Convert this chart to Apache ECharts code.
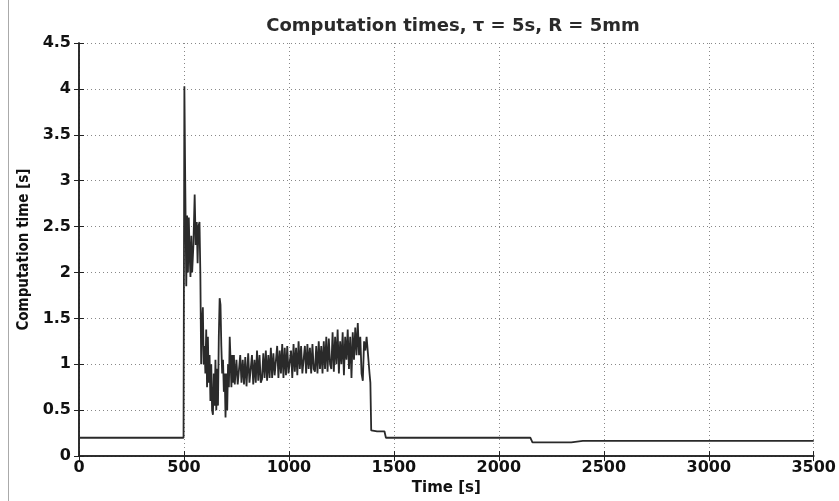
<!DOCTYPE html>
<html>
<head>
<meta charset="utf-8">
<script src="https://cdn.jsdelivr.net/npm/echarts@6/dist/echarts.min.js"></script>
<style>
  html, body { margin: 0; padding: 0; background: #fff; }
  #chart { width: 839px; height: 501px; }
</style>
</head>
<body>
<div id="chart"></div>
<script>
// values, [time s, computation time s]
const idleStart = [
    [0, 0.2], [60, 0.2], [62, 0.21], [66, 0.2], [160, 0.2], [163, 0.21], [168, 0.2],
    [230, 0.2], [233, 0.21], [236, 0.2], [395, 0.2], [398, 0.21], [402, 0.2], [498, 0.2]
];
const burst = [
    [500, 0.2], [502, 4.03], [506, 3.0], [511, 1.85], [515, 2.62], [519, 2.0], [523, 2.6],
    [527, 2.2], [531, 1.95], [535, 2.4], [539, 2.0], [545, 2.3], [551, 2.85], [556, 2.3],
    [561, 2.55], [565, 2.1], [569, 2.5], [574, 2.55], [578, 2.0], [582, 1.0], [586, 1.45],
    [590, 1.62], [594, 1.0], [598, 1.2], [602, 0.9], [606, 1.38], [610, 0.75], [614, 1.3],
    [618, 0.8], [622, 1.1], [626, 0.6], [630, 1.0], [634, 0.5], [638, 0.45], [642, 0.9],
    [646, 0.55], [650, 1.05], [654, 0.5], [658, 0.95], [662, 0.55], [666, 1.3], [670, 1.72],
    [674, 1.65], [678, 1.2], [682, 0.9], [686, 1.05], [690, 0.7], [694, 0.9], [698, 0.42],
    [702, 0.9], [706, 0.5], [710, 1.0], [714, 0.75], [718, 1.3], [722, 1.05], [726, 0.75],
    [730, 1.1], [734, 0.8], [738, 1.1], [742, 0.78]
];
const plateau = [
    [750, 1.05], [756, 0.78], [762, 0.8], [768, 1.1], [774, 0.8], [780, 1.05], [786, 0.78],
    [792, 1.08], [798, 0.76], [806, 1.12], [812, 0.8], [818, 0.82], [824, 1.1], [830, 0.78],
    [836, 1.05], [842, 0.8], [848, 1.15], [854, 0.82], [860, 1.1], [866, 0.8], [872, 0.84],
    [878, 1.12], [884, 0.85], [890, 1.15], [896, 0.82], [902, 1.1], [908, 0.85], [914, 1.18],
    [920, 0.85], [926, 1.12], [932, 0.88], [938, 0.86], [944, 1.2], [950, 0.85], [956, 1.15],
    [962, 0.9], [968, 1.22], [974, 0.85], [980, 1.18], [986, 0.88], [992, 1.2], [998, 0.9],
    [1004, 0.88], [1010, 1.15], [1016, 0.85], [1022, 1.22], [1028, 0.92], [1034, 1.18],
    [1040, 0.88], [1046, 1.25], [1052, 0.95], [1058, 1.2], [1064, 0.9], [1070, 0.92],
    [1076, 1.2], [1082, 0.9], [1088, 1.22], [1094, 0.95], [1100, 1.18], [1106, 0.9],
    [1112, 1.22], [1118, 0.95], [1124, 0.92], [1130, 1.2], [1136, 0.9], [1142, 1.25],
    [1148, 0.95], [1154, 1.2], [1160, 0.9], [1166, 1.25], [1172, 0.95], [1178, 1.3],
    [1184, 0.92], [1190, 1.28], [1196, 1.0], [1202, 0.95], [1208, 1.35], [1214, 0.92],
    [1220, 1.3], [1226, 1.0], [1232, 1.38], [1238, 0.9], [1244, 1.25], [1250, 1.0],
    [1256, 1.35], [1262, 0.88], [1268, 1.3], [1274, 1.05], [1280, 1.38], [1286, 0.95],
    [1292, 1.3], [1298, 0.85], [1304, 1.35], [1310, 1.05], [1316, 1.4], [1322, 1.1],
    [1328, 1.45], [1334, 1.1], [1340, 1.3], [1346, 0.9], [1352, 0.82], [1358, 1.25],
    [1364, 1.15], [1370, 1.3], [1378, 1.28], [1384, 0.9], [1388, 0.8], [1392, 0.28]
];
const idleEnd = [
    [1395, 0.27], [1420, 0.27], [1425, 0.26], [1430, 0.27], [1455, 0.27], [1462, 0.2],
    [1520, 0.2], [1524, 0.21], [1530, 0.2], [1700, 0.2], [1704, 0.21], [1710, 0.2],
    [1800, 0.2], [1803, 0.21], [1808, 0.2], [1880, 0.2], [1884, 0.21], [1900, 0.2],
    [2150, 0.2], [2160, 0.15], [2260, 0.15], [2265, 0.145], [2270, 0.15], [2345, 0.15],
    [2350, 0.165], [2400, 0.165], [2405, 0.15], [2410, 0.165], [2470, 0.165], [2475, 0.155],
    [2480, 0.165], [2540, 0.165], [2545, 0.15], [2550, 0.165], [2620, 0.165], [2625, 0.152],
    [2630, 0.165], [2700, 0.165], [2705, 0.15], [2710, 0.165], [2760, 0.165], [2765, 0.155],
    [2770, 0.165], [2850, 0.165], [2855, 0.15], [2860, 0.165], [2960, 0.165], [2965, 0.15],
    [2975, 0.165], [3050, 0.165], [3055, 0.152], [3060, 0.165], [3180, 0.165], [3185, 0.15],
    [3190, 0.165], [3280, 0.165], [3285, 0.155], [3290, 0.165], [3400, 0.165], [3405, 0.15],
    [3410, 0.165], [3500, 0.165]
];
const xTicks = [0, 3500, 500];
const yTicks = [0, 4.5, 0.5];

const data = idleStart.concat(burst, plateau, idleEnd);

const labelFont = { color: '#111', fontFamily: 'DejaVu Sans', fontWeight: 'bold', fontSize: 16 };
const gridLine = { show: true, lineStyle: { color: '#888', width: 1, type: [1, 3] } };
const frame = { show: true, lineStyle: { color: '#222', width: 1.5 } };
const ticksIn = { show: true, inside: true, length: 5, lineStyle: { color: '#222', width: 1 } };

const chart = echarts.init(document.getElementById('chart'));
chart.setOption({
    animation: false,
    backgroundColor: '#fff',
    title: {
        text: 'Computation times, \u03c4 = 5s, R = 5mm',
        left: 448,
        top: 12,
        textAlign: 'center',
        textStyle: { color: '#2a2a2a', fontFamily: 'DejaVu Sans', fontWeight: 'bold', fontSize: 18 }
    },
    grid: { left: 79, right: 22, top: 43, bottom: 38 },
    xAxis: [
        {
            type: 'value', position: 'bottom',
            min: xTicks[0], max: xTicks[1], interval: xTicks[2],
            axisLine: frame, axisTick: ticksIn, splitLine: gridLine,
            axisLabel: Object.assign({ margin: 4, formatter: v => String(v) }, labelFont),
            name: 'Time [s]', nameLocation: 'middle', nameGap: 24,
            nameTextStyle: { color: '#111', fontFamily: 'DejaVu Sans', fontWeight: 'bold', fontSize: 15 }
        },
        {
            type: 'value', position: 'top',
            min: xTicks[0], max: xTicks[1], interval: xTicks[2],
            axisLine: frame, axisTick: ticksIn, splitLine: { show: false },
            axisLabel: { show: false }
        }
    ],
    yAxis: [
        {
            type: 'value', position: 'left',
            min: yTicks[0], max: yTicks[1], interval: yTicks[2],
            axisLine: frame, axisTick: ticksIn, splitLine: gridLine,
            axisLabel: Object.assign({ margin: 8, formatter: v => String(v) }, labelFont),
            name: 'Computation time [s]', nameLocation: 'middle', nameGap: 42,
            nameTextStyle: { color: '#111', fontFamily: 'DejaVu Sans Condensed', fontWeight: 'bold', fontSize: 15 }
        },
        {
            type: 'value', position: 'right',
            min: yTicks[0], max: yTicks[1], interval: yTicks[2],
            axisLine: frame, axisTick: ticksIn, splitLine: { show: false },
            axisLabel: { show: false }
        }
    ],
    graphic: [
        {
            type: 'line', silent: true,
            shape: { x1: 8.5, y1: 0, x2: 8.5, y2: 501 },
            style: { stroke: '#aaa', lineWidth: 1 }
        }
    ],
    series: [
        {
            type: 'line',
            data: data,
            showSymbol: false,
            lineStyle: { color: '#2a2a2a', width: 1.8 }
        }
    ]
});
</script>
</body>
</html>
